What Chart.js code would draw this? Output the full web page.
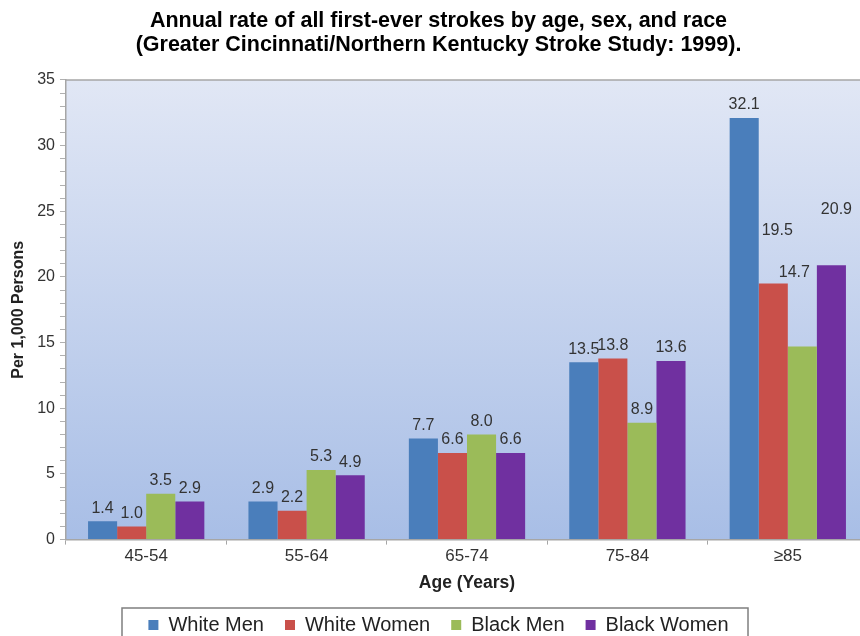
<!DOCTYPE html>
<html>
<head>
<meta charset="utf-8">
<script src="https://cdn.jsdelivr.net/npm/chart.js@4/dist/chart.umd.min.js"></script>
<style>
  html, body { margin: 0; padding: 0; background: #fff; overflow: hidden; }
  #wrap { width: 860px; height: 636px; overflow: hidden; position: relative; }
  #box { width: 870px; height: 645px; position: absolute; left: 0; top: 0; }
</style>
</head>
<body>
<div id="wrap"><div id="box"><canvas id="chart"></canvas></div></div>
<script>
const ageGroups = ['45-54', '55-64', '65-74', '75-84', '\u226585']
const whiteMen = [1.4, 2.9, 7.7, 13.5, 32.1]
const whiteWomen = [1.0, 2.2, 6.6, 13.8, 19.5]
const blackMen = [3.5, 5.3, 8.0, 8.9, 14.7]
const blackWomen = [2.9, 4.9, 6.6, 13.6, 20.9]
const seriesNames = ['White Men', 'White Women', 'Black Men', 'Black Women']
const seriesColors = ['#4a7ebb', '#c9504a', '#9bbb59', '#7030a0']

const FONT = '"Liberation Sans", Arial, sans-serif'

// some labels in the last group sit away from their bar in the original
const labelShift = { '1:4': [4, -40], '2:4': [-8, -61], '3:4': [5, -43] }

const plotBackground = {
    id: 'plotBackground',
    beforeDraw(chart) {
        const { ctx, chartArea: a } = chart
        const g = ctx.createLinearGradient(0, a.top, 0, a.bottom)
        g.addColorStop(0, '#e1e7f5')
        g.addColorStop(1, '#a8bee6')
        ctx.save()
        ctx.fillStyle = g
        ctx.fillRect(a.left, a.top, a.right - a.left, a.bottom - a.top)
        ctx.strokeStyle = '#a6a6a6'
        ctx.lineWidth = 1.5
        ctx.beginPath()
        ctx.moveTo(a.left, a.top)
        ctx.lineTo(a.right, a.top)
        ctx.stroke()
        ctx.restore()
    }
}

const valueLabels = {
    id: 'valueLabels',
    afterDatasetsDraw(chart) {
        const { ctx } = chart
        ctx.save()
        ctx.font = '16px ' + FONT
        ctx.fillStyle = '#333'
        ctx.textAlign = 'center'
        ctx.textBaseline = 'bottom'
        chart.data.datasets.forEach((ds, i) => {
            chart.getDatasetMeta(i).data.forEach((bar, j) => {
                const s = labelShift[i + ':' + j] || [0, 0]
                ctx.fillText(ds.data[j].toFixed(1), bar.x + s[0], bar.y - 5 + s[1])
            })
        })
        ctx.restore()
    }
}

const legendFrame = {
    id: 'legendFrame',
    afterDraw(chart) {
        const l = chart.legend
        const { ctx } = chart
        ctx.save()
        ctx.strokeStyle = '#7f7f7f'
        ctx.lineWidth = 1.5
        ctx.strokeRect(122, l.top + 14, 626, l.height)
        ctx.restore()
    }
}

const datasets = [whiteMen, whiteWomen, blackMen, blackWomen].map((d, i) => ({
    label: seriesNames[i],
    data: d,
    backgroundColor: seriesColors[i],
    borderWidth: 0,
    categoryPercentage: 0.725,
    barPercentage: 1.0,
}))

new Chart(document.getElementById('chart'), {
    type: 'bar',
    data: { labels: ageGroups, datasets: datasets },
    plugins: [plotBackground, valueLabels, legendFrame],
    options: {
        responsive: true,
        maintainAspectRatio: false,
        animation: false,
        layout: { padding: { left: 9, right: 2, top: 0, bottom: 0 } },
        plugins: {
            title: {
                display: true,
                text: ['Annual rate of all first-ever strokes by age, sex, and race',
                       '(Greater Cincinnati/Northern Kentucky Stroke Study: 1999).'],
                color: '#000',
                font: { family: FONT, size: 21.5, weight: 'bold', lineHeight: 1.116 },
                padding: { top: 9.5, bottom: 22.5 },
            },
            legend: {
                position: 'bottom',
                labels: {
                    color: '#222',
                    font: { family: FONT, size: 20 },
                    boxWidth: 10,
                    boxHeight: 10,
                    padding: 21,
                    useBorderRadius: false,
                },
            },
            tooltip: { enabled: false },
        },
        scales: {
            x: {
                grid: { display: true, drawOnChartArea: false, offset: true, tickLength: 5, color: '#a6a6a6' },
                border: { color: '#a6a6a6', width: 1.5 },
                ticks: { color: '#333', font: { family: FONT, size: 17 }, padding: 2 },
                title: {
                    display: true, text: 'Age (Years)', color: '#222',
                    font: { family: FONT, size: 17.5, weight: 'bold' },
                    padding: { top: 4, bottom: 0 },
                },
            },
            y: {
                min: 0,
                max: 35,
                grid: { display: true, drawOnChartArea: false, tickLength: 6, color: '#b0b0b0' },
                border: { color: '#a6a6a6', width: 1.5 },
                ticks: {
                    stepSize: 1,
                    autoSkip: false,
                    color: '#333',
                    font: { family: FONT, size: 16 },
                    padding: 5,
                    callback: v => (v % 5 === 0 ? v : ''),
                },
                title: {
                    display: true, text: 'Per 1,000 Persons', color: '#222',
                    font: { family: FONT, size: 16, weight: 'bold' },
                    padding: { top: 0, bottom: 4 },
                },
            },
        },
    },
})
</script>
</body>
</html>
